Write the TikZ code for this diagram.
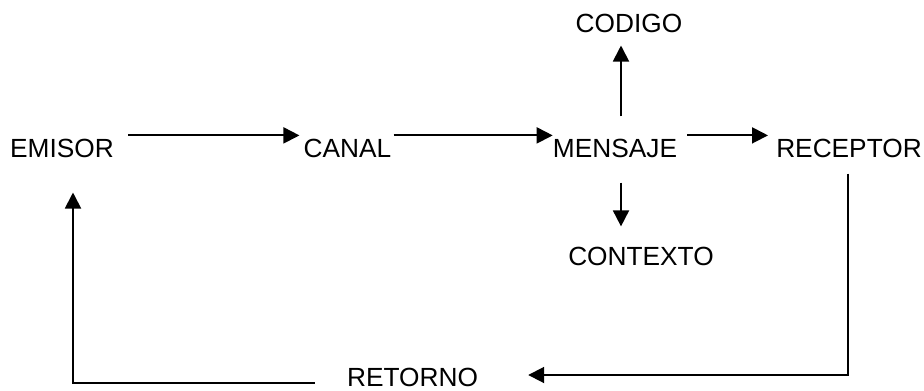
\documentclass[tikz,border=0pt]{standalone}
\usepackage{fontspec}
\setmainfont{Liberation Sans}
\usetikzlibrary{arrows}
\usetikzlibrary{arrows.meta}

\tikzset{
  etiqueta/.style={inner sep=0pt,anchor=base,font=\fontsize{19.7}{24}\selectfont},
  flecha/.style={line width=1.4pt,-{Triangle[length=12pt,width=12pt]}}
}

\begin{document}
\begin{tikzpicture}[x=0.75pt,y=0.75pt]

\useasboundingbox (0,0) rectangle (924,390);

\node[etiqueta] (emisor) at (62,233) {EMISOR};
\node[etiqueta] (canal) at (347.5,233) {CANAL};
\node[etiqueta] (mensaje) at (615,233) {MENSAJE};
\node[etiqueta] (receptor) at (849,233) {RECEPTOR};
\node[etiqueta] (codigo) at (629,357) {CODIGO};
\node[etiqueta] (contexto) at (641,125) {CONTEXTO};
\node[etiqueta] (retorno) at (412.5,4) {RETORNO};

\draw[flecha] ([shift={(14,3)}]emisor.north east) -- ([shift={(-4,3)}]canal.north west);
\draw[flecha] ([shift={(2,3)}]canal.north east) -- ([shift={(0,3)}]mensaje.north west);
\draw[flecha] ([shift={(10,3)}]mensaje.north east) -- ([shift={(-8,3)}]receptor.north west);

\draw[flecha] ([shift={(6,22)}]mensaje.north) -- ([shift={(-8,-12)}]codigo.south);
\draw[flecha] ([shift={(6,-25)}]mensaje.south) -- ([shift={(-20,20)}]contexto.north);

\draw[flecha] ([shift={(-1,-16)}]receptor.south) |- ([shift={(50,11)}]retorno.base east);
\draw[flecha] ([shift={(-32,3)}]retorno.base west) -| ([shift={(11,-35)}]emisor.south);

\end{tikzpicture}
\end{document}
